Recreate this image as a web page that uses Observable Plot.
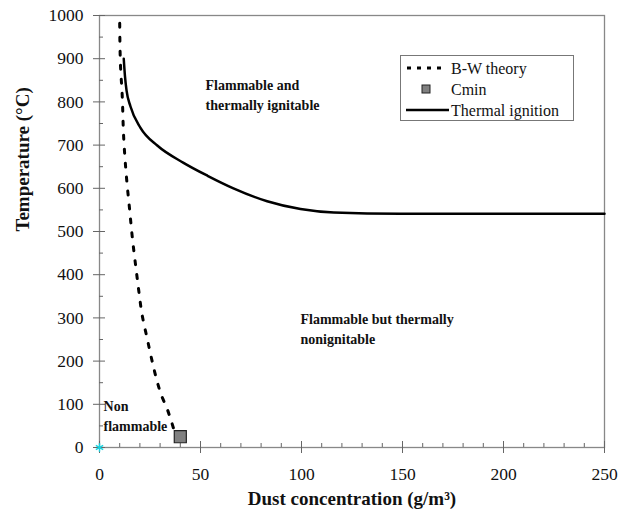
<!DOCTYPE html>
<html>
<head>
<meta charset="utf-8">
<script src="https://cdn.jsdelivr.net/npm/d3@7"></script>
<script src="https://cdn.jsdelivr.net/npm/@observablehq/plot@0.6"></script>
<style>
  html, body { margin: 0; padding: 0; background: white; }
  #chart svg, #chart svg text { font-family: "Liberation Serif", "Times New Roman", serif !important; }
</style>
</head>
<body>
<div id="chart"></div>
<script>
// ---- data ----
const bwX = [10.0, 10.4, 11.2, 12.0, 13.4, 14.9, 16.3, 18.0, 19.8, 20.8, 23.8, 26.2, 28.7, 30.7, 33.2, 35.6, 36.8];
const bwT = [982, 884, 819, 715, 623, 551, 484, 417, 350, 315, 248, 197, 150, 120, 93, 60, 42];

const tiX = [12, 12.6, 13.4, 15.3, 20.3, 28.6, 41.6, 53.5, 66.3, 83, 99.5, 116, 149, 200, 250];
const tiT = [900, 860, 826, 790, 740, 699, 659, 629, 600, 570, 552, 544, 541, 541, 541];

const cminX = [40];
const cminT = [25];

const originX = [0];
const originT = [0];

const xMajor = [0, 50, 100, 150, 200, 250];
const xMinor = d3.range(0, 251, 10).filter(v => v % 50 !== 0);
const yMajor = [0, 100, 200, 300, 400, 500, 600, 700, 800, 900, 1000];
const yMinor = d3.range(50, 1000, 100);

const regionLabels = ["Flammable and\nthermally ignitable", "Flammable but thermally\nnonignitable", "Non\nflammable"];
const regionX = [52.5, 99.5, 2];
const regionT = [819, 278, 76];

const legendLabels = ["B-W theory", "Cmin", "Thermal ignition"];
const xTitle = "Dust concentration (g/m³)";
const yTitle = "Temperature (°C)";

// ---- build tables ----
const bw = bwX.map((x, i) => ({x, y: bwT[i]}));
const ti = tiX.map((x, i) => ({x, y: tiT[i]}));
const cmin = cminX.map((x, i) => ({x, y: cminT[i]}));
const origin = originX.map((x, i) => ({x, y: originT[i]}));
const regions = regionLabels.map((t, i) => ({t, x: regionX[i], y: regionT[i]}));

const W = 630, H = 517, mL = 99, mR = 26, mT = 15, mB = 70;
const pw = W - mL - mR, ph = H - mT - mB;
const serif = "Liberation Serif, Times New Roman, serif";
const axisGray = "#666";

const chart = Plot.plot({
  width: W, height: H,
  marginLeft: mL, marginRight: mR, marginTop: mT, marginBottom: mB,
  x: {domain: [0, 250]},
  y: {domain: [0, 1000]},
  style: {background: "white", color: "#111"},
  marks: [
    Plot.frame({stroke: "#888", strokeWidth: 1.3}),
    Plot.axisX({ticks: xMajor, tickFormat: d => String(d), tickSize: 6, tickPadding: 14, fontSize: 17.5, label: null, stroke: axisGray, fill: "#111"}),
    Plot.axisY({ticks: yMajor, tickFormat: d => String(d), tickSize: 6, tickPadding: 10, fontSize: 17.5, label: null, stroke: axisGray, fill: "#111"}),
    Plot.ruleX(xMajor, {x: d => d, insetTop: ph - 6, stroke: axisGray}),
    Plot.ruleX(xMinor, {x: d => d, insetTop: ph - 4, stroke: axisGray}),
    Plot.ruleY(yMajor, {y: d => d, insetRight: pw - 6, stroke: axisGray}),
    Plot.ruleY(yMinor, {y: d => d, insetRight: pw - 4, stroke: axisGray}),
    Plot.line(bw, {x: "x", y: "y", stroke: "black", strokeWidth: 3, strokeDasharray: "4,10", curve: "monotone-y"}),
    Plot.line(ti, {x: "x", y: "y", stroke: "black", strokeWidth: 2.5, curve: "monotone-x"}),
    Plot.dot(cmin, {x: "x", y: "y", symbol: "square", r: 6.8, fill: "#808080", stroke: "#222", strokeWidth: 1.2}),
    Plot.dot(origin, {x: "x", y: "y", symbol: "asterisk", r: 4, stroke: "#19d3e0", strokeWidth: 1.5}),
    Plot.text(regions, {x: "x", y: "y", text: "t", textAnchor: "start", lineAnchor: "middle", lineHeight: 1.43, fontSize: 14, fontWeight: "bold", fill: "#111"}),
    Plot.text([xTitle], {frameAnchor: "bottom", dy: 57, fontSize: 19, fontWeight: "bold", fill: "#111"}),
    Plot.text([yTitle], {frameAnchor: "left", dx: -77, rotate: -90, fontSize: 19, fontWeight: "bold", fill: "#111"})
  ]
});

document.getElementById("chart").appendChild(chart);

// ---- legend ----
const svg = d3.select(chart);
svg.attr("font-family", serif);
const lg = svg.append("g").attr("font-size", 16).attr("fill", "#111").attr("text-anchor", "start");
lg.append("rect").attr("x", 400.5).attr("y", 55.5).attr("width", 173).attr("height", 65)
  .attr("fill", "white").attr("stroke", "#777").attr("stroke-width", 1);
const rowY = [68, 89, 110];
lg.append("line").attr("x1", 407).attr("x2", 441).attr("y1", rowY[0]).attr("y2", rowY[0])
  .attr("stroke", "black").attr("stroke-width", 3).attr("stroke-dasharray", "4,6");
lg.append("rect").attr("x", 422).attr("y", rowY[1] - 4).attr("width", 8).attr("height", 8)
  .attr("fill", "#808080").attr("stroke", "#222").attr("stroke-width", 1);
lg.append("line").attr("x1", 406).attr("x2", 449).attr("y1", rowY[2]).attr("y2", rowY[2])
  .attr("stroke", "black").attr("stroke-width", 2.5);
legendLabels.forEach((t, i) => {
  lg.append("text").attr("x", 451).attr("y", rowY[i]).attr("dy", "0.35em").text(t);
});
svg.selectAll("text").attr("font-family", serif);
</script>
</body>
</html>
